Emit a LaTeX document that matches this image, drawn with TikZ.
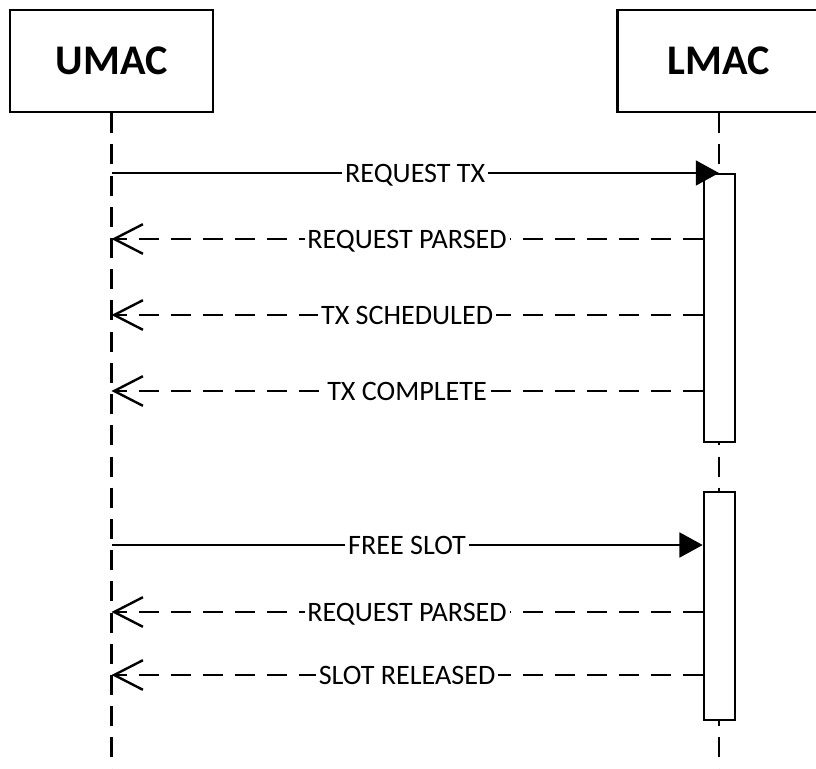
\documentclass[tikz,border=0pt]{standalone}
\usepackage{fontspec}
\setmainfont{Carlito}
\usetikzlibrary{arrows.meta}

\begin{document}
\begin{tikzpicture}[x=0.025cm,y=-0.025cm,line width=0.06cm,
  actor/.style={draw,fill=white,minimum width=5.08cm,minimum height=2.55cm,
    font=\fontsize{30}{36}\selectfont\bfseries},
  lifeline/.style={dash pattern=on 0.5cm off 0.28cm},
  active/.style={draw,fill=white,minimum width=0.78cm,anchor=north},
  call/.style={-{Triangle[length=0.58cm,width=0.62cm]}},
  reply/.style={dash pattern=on 0.5cm off 0.3cm,-{Straight Barb[length=0.72cm,width=0.74cm]}},
  msg/.style={fill=white,inner xsep=2pt,inner ysep=1.5pt,text height=0.45cm,text depth=0pt,
    font=\fontsize{20}{24}\selectfont}]
\useasboundingbox (0,0) rectangle (816,769);
\clip (0,0) rectangle (816,769);

\node[actor] (umac) at (111.5,61) {UMAC};
\node[actor] (lmac) at (719,61) {LMAC};
\coordinate (bottom) at (0,769);
\draw[lifeline] (umac.south) -- (umac.south |- bottom);
\draw[lifeline] (lmac.south) -- (lmac.south |- bottom);

% activations
\node[active,minimum height=6.7cm] (act1) at (719.5,173) {};
\node[active,minimum height=5.7cm] (act2) at (719.5,491) {};

% messages
\coordinate (m1) at (0,239);
\coordinate (m2) at (0,315);
\coordinate (m3) at (0,391);
\coordinate (m4) at (0,545);
\coordinate (m5) at (0,612);
\coordinate (m6) at (0,675);

\draw[call] (umac.south |- act1.north) -- (lmac.south |- act1.north) node[msg,midway] {REQUEST TX};
\draw[reply] (act1.west |- m1) -- (umac.south |- m1) node[msg,midway] {REQUEST PARSED};
\draw[reply] (act1.west |- m2) -- (umac.south |- m2) node[msg,midway] {TX SCHEDULED};
\draw[reply] (act1.west |- m3) -- (umac.south |- m3) node[msg,midway] {TX COMPLETE};

\draw[call] (umac.south |- m4) -- (act2.west |- m4) node[msg,midway] {FREE SLOT};
\draw[reply] (act2.west |- m5) -- (umac.south |- m5) node[msg,midway] {REQUEST PARSED};
\draw[reply] (act2.west |- m6) -- (umac.south |- m6) node[msg,midway] {SLOT RELEASED};
\end{tikzpicture}
\end{document}
